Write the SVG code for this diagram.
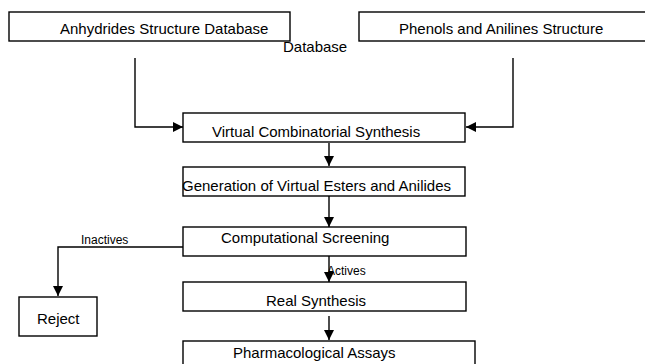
<svg xmlns="http://www.w3.org/2000/svg" width="645" height="364" viewBox="0 0 645 364">
<style>
.box{fill:#fff;stroke:#000;stroke-width:1.4}
.t{font-family:"Liberation Sans",Arial,sans-serif;font-size:15px;fill:#000}
.s{font-family:"Liberation Sans",Arial,sans-serif;font-size:12px;fill:#000}
.c{fill:none;stroke:#000;stroke-width:1.4}
</style>
<defs>
<marker id="ah" viewBox="0 0 10 10" refX="10" refY="5" markerWidth="10" markerHeight="10" markerUnits="userSpaceOnUse" orient="auto">
<path d="M0,0 L10,5 L0,10 z" fill="#000"/>
</marker>
</defs>
<g id="connectors">
<path class="c" d="M135,58 V127 H183" marker-end="url(#ah)"/>
<path class="c" d="M513,58 V127 H466" marker-end="url(#ah)"/>
<path class="c" d="M329,143 V166" marker-end="url(#ah)"/>
<path class="c" d="M329,196 V227" marker-end="url(#ah)"/>
<path class="c" d="M183,247 H58 V296" marker-end="url(#ah)"/>
<path class="c" d="M329,256 V282" marker-end="url(#ah)"/>
<path class="c" d="M329,316 V340" marker-end="url(#ah)"/>
<text class="s" x="81" y="244">Inactives</text>
<text class="s" x="327" y="275">Actives</text>
</g>
<g id="anhydrides">
<rect class="box" x="9" y="12" width="281" height="29"/>
<text class="t" x="60" y="34">Anhydrides Structure Database</text>
</g>
<g id="phenols">
<rect class="box" x="359" y="12" width="300" height="29"/>
<text class="t" x="399" y="34">Phenols and Anilines Structure</text>
<text class="t" x="283" y="52">Database</text>
</g>
<g id="virtual-synthesis">
<rect class="box" x="183" y="113" width="282" height="29"/>
<text class="t" x="212" y="137">Virtual Combinatorial Synthesis</text>
</g>
<g id="generation">
<rect class="box" x="183" y="167" width="282" height="29"/>
<text class="t" x="182" y="191">Generation of Virtual Esters and Anilides</text>
</g>
<g id="screening">
<rect class="box" x="183" y="227" width="283" height="29"/>
<text class="t" x="221" y="243">Computational Screening</text>
</g>
<g id="reject">
<rect class="box" x="19" y="297" width="78" height="39"/>
<text class="t" x="37" y="324">Reject</text>
</g>
<g id="real-synthesis">
<rect class="box" x="183" y="282" width="283" height="29"/>
<text class="t" x="266" y="306">Real Synthesis</text>
</g>
<g id="assays">
<rect class="box" x="183" y="341" width="292" height="30"/>
<text class="t" x="233" y="358">Pharmacological Assays</text>
</g>
</svg>
